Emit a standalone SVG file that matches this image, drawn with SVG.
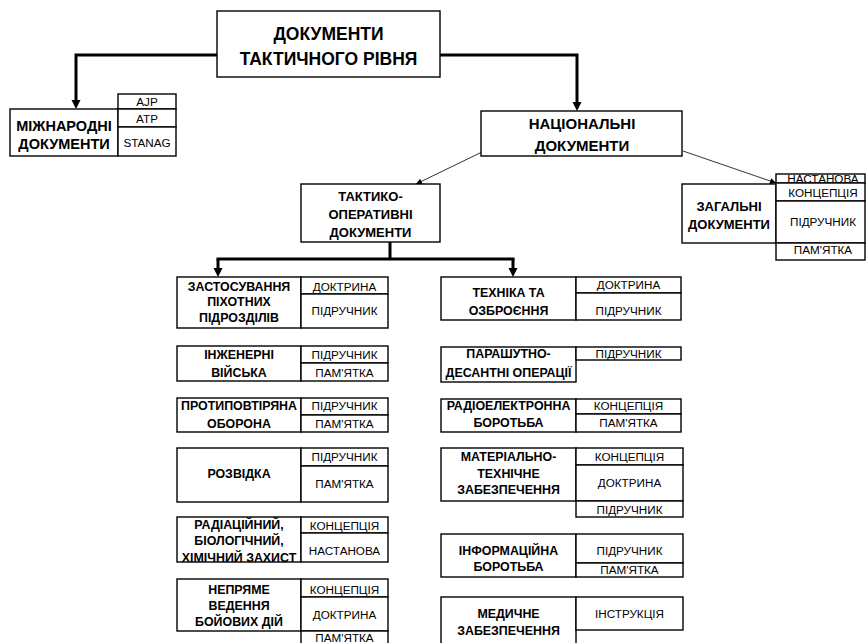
<svg xmlns="http://www.w3.org/2000/svg" width="866" height="643" viewBox="0 0 866 643">
<defs>
<style>
.b{fill:#fff;stroke:#000;stroke-width:1.4}
.t{font-family:"Liberation Sans",Arial,sans-serif;font-weight:bold;text-anchor:middle;fill:#000}
.s{font-family:"Liberation Sans",Arial,sans-serif;font-weight:normal;text-anchor:middle;fill:#000;font-size:11.7px}
.m{font-size:12.4px}
.thick{fill:none;stroke:#000;stroke-width:3}
.thin{fill:none;stroke:#000;stroke-width:0.8}
</style>
<marker id="ah" viewBox="0 0 10 10" refX="0" refY="5" markerWidth="9" markerHeight="10" markerUnits="userSpaceOnUse" orient="auto"><path d="M0,0 L10,5 L0,10 z" fill="#000"/></marker>
<marker id="ahs" viewBox="0 0 10 10" refX="10" refY="5" markerWidth="7" markerHeight="6" markerUnits="userSpaceOnUse" orient="auto"><path d="M0,0 L10,5 L0,10 z" fill="#000"/></marker>
</defs>
<rect width="866" height="643" fill="#fff"/>

<g id="connectors">
<path class="thick" d="M217,55 H76 V100" marker-end="url(#ah)"/>
<path class="thick" d="M440,55 H577 V102" marker-end="url(#ah)"/>
<path class="thick" d="M390,242 V259"/>
<path class="thick" d="M216.5,259 H514.5"/>
<path class="thick" d="M218,259 V268" marker-end="url(#ah)"/>
<path class="thick" d="M513,259 V268" marker-end="url(#ah)"/>
<path class="thin" d="M482,152 L416,184" marker-end="url(#ahs)"/>
<path class="thin" d="M683,151 L776,183" marker-end="url(#ahs)"/>
</g>

<g id="top">
<rect class="b" x="217" y="11" width="223" height="66"/>
<text class="t" x="328.5" y="40" font-size="17.5">ДОКУМЕНТИ</text>
<text class="t" x="328.5" y="65" font-size="17.5">ТАКТИЧНОГО РІВНЯ</text>
</g>

<g id="international">
<rect class="b" x="10" y="109" width="108" height="47"/>
<text class="t" x="64" y="131" font-size="14.5">МІЖНАРОДНІ</text>
<text class="t" x="64" y="149" font-size="14.5">ДОКУМЕНТИ</text>
<rect class="b" x="118" y="94" width="58" height="15"/>
<rect class="b" x="118" y="109" width="58" height="18"/>
<rect class="b" x="118" y="127" width="58" height="29"/>
<text class="s" x="147" y="106">AJP</text>
<text class="s" x="147" y="123">ATP</text>
<text class="s" x="147" y="147">STANAG</text>
</g>

<g id="national">
<rect class="b" x="481" y="111" width="201" height="45"/>
<text class="t" x="582" y="129" font-size="15">НАЦІОНАЛЬНІ</text>
<text class="t" x="582" y="151" font-size="15">ДОКУМЕНТИ</text>
</g>

<g id="general">
<rect class="b" x="682" y="184" width="94" height="59"/>
<text class="t" x="729" y="211" font-size="13">ЗАГАЛЬНІ</text>
<text class="t" x="729" y="229" font-size="13">ДОКУМЕНТИ</text>
<rect class="b" x="776" y="174" width="89" height="9"/>
<rect class="b" x="776" y="183" width="89" height="18"/>
<rect class="b" x="776" y="201" width="89" height="42"/>
<rect class="b" x="776" y="243" width="89" height="17"/>
<text class="s" x="823" y="183">НАСТАНОВА</text>
<text class="s" x="823" y="197">КОНЦЕПЦІЯ</text>
<text class="s" x="823" y="226">ПІДРУЧНИК</text>
<text class="s" x="823" y="254">ПАМ'ЯТКА</text>
</g>

<g id="tactical">
<rect class="b" x="301" y="184" width="139" height="58"/>
<text class="t" x="370.5" y="201" font-size="13">ТАКТИКО-</text>
<text class="t" x="370.5" y="219" font-size="13">ОПЕРАТИВНІ</text>
<text class="t" x="370.5" y="237" font-size="13">ДОКУМЕНТИ</text>
</g>

<g id="infantry">
<rect class="b" x="177" y="277" width="124" height="51"/>
<text class="t m" x="239" y="291">ЗАСТОСУВАННЯ</text>
<text class="t m" x="239" y="306">ПІХОТНИХ</text>
<text class="t m" x="239" y="322">ПІДРОЗДІЛІВ</text>
<rect class="b" x="301" y="277" width="87" height="17"/>
<rect class="b" x="301" y="294" width="87" height="34"/>
<text class="s" x="344.5" y="290.5">ДОКТРИНА</text>
<text class="s" x="344.5" y="315">ПІДРУЧНИК</text>
</g>

<g id="engineers">
<rect class="b" x="177" y="346" width="124" height="35"/>
<text class="t m" x="239" y="359">ІНЖЕНЕРНІ</text>
<text class="t m" x="239" y="376.5">ВІЙСЬКА</text>
<rect class="b" x="301" y="346" width="87" height="17"/>
<rect class="b" x="301" y="363" width="87" height="18"/>
<text class="s" x="344.5" y="359">ПІДРУЧНИК</text>
<text class="s" x="344.5" y="376.5">ПАМ'ЯТКА</text>
</g>

<g id="antitank">
<rect class="b" x="177" y="398" width="124" height="34"/>
<text class="t m" x="239" y="410">ПРОТИПОВТІРЯНА</text>
<text class="t m" x="239" y="427.5">ОБОРОНА</text>
<rect class="b" x="301" y="398" width="87" height="17"/>
<rect class="b" x="301" y="415" width="87" height="17"/>
<text class="s" x="344.5" y="410">ПІДРУЧНИК</text>
<text class="s" x="344.5" y="427.5">ПАМ'ЯТКА</text>
</g>

<g id="recon">
<rect class="b" x="177" y="448" width="124" height="54"/>
<text class="t m" x="239" y="478">РОЗВІДКА</text>
<rect class="b" x="301" y="448" width="87" height="18"/>
<rect class="b" x="301" y="466" width="87" height="36"/>
<text class="s" x="344.5" y="461">ПІДРУЧНИК</text>
<text class="s" x="344.5" y="487.5">ПАМ'ЯТКА</text>
</g>

<g id="cbrn">
<rect class="b" x="177" y="517" width="124" height="45"/>
<text class="t m" x="239" y="528.5">РАДІАЦІЙНИЙ,</text>
<text class="t m" x="239" y="545">БІОЛОГІЧНИЙ,</text>
<text class="t m" x="239" y="561.5">ХІМІЧНИЙ ЗАХИСТ</text>
<rect class="b" x="301" y="517" width="87" height="16"/>
<rect class="b" x="301" y="533" width="87" height="29"/>
<text class="s" x="344.5" y="530">КОНЦЕПЦІЯ</text>
<text class="s" x="344.5" y="555">НАСТАНОВА</text>
</g>

<g id="indirect">
<rect class="b" x="177" y="579" width="124" height="52"/>
<text class="t m" x="239" y="594">НЕПРЯМЕ</text>
<text class="t m" x="239" y="609.5">ВЕДЕННЯ</text>
<text class="t m" x="239" y="626">БОЙОВИХ ДІЙ</text>
<rect class="b" x="301" y="579" width="87" height="18"/>
<rect class="b" x="301" y="597" width="87" height="34"/>
<rect class="b" x="301" y="631" width="87" height="20"/>
<text class="s" x="344.5" y="594">КОНЦЕПЦІЯ</text>
<text class="s" x="344.5" y="619">ДОКТРИНА</text>
<text class="s" x="344.5" y="641.5">ПАМ'ЯТКА</text>
</g>

<g id="equipment">
<rect class="b" x="441" y="277" width="135" height="43"/>
<text class="t m" x="508.5" y="297">ТЕХНІКА ТА</text>
<text class="t m" x="508.5" y="315">ОЗБРОЄННЯ</text>
<rect class="b" x="576" y="277" width="105" height="16"/>
<rect class="b" x="576" y="293" width="105" height="27"/>
<text class="s" x="628.5" y="289">ДОКТРИНА</text>
<text class="s" x="628.5" y="315">ПІДРУЧНИК</text>
</g>

<g id="airborne">
<rect class="b" x="441" y="347" width="135" height="35"/>
<text class="t m" x="508.5" y="358">ПАРАШУТНО-</text>
<text class="t m" x="508.5" y="377">ДЕСАНТНІ ОПЕРАЦІЇ</text>
<rect class="b" x="576" y="347" width="105" height="13"/>
<text class="s" x="628.5" y="358">ПІДРУЧНИК</text>
</g>

<g id="ew">
<rect class="b" x="441" y="399" width="135" height="33"/>
<text class="t m" x="508.5" y="409.5">РАДІОЕЛЕКТРОННА</text>
<text class="t m" x="508.5" y="427">БОРОТЬБА</text>
<rect class="b" x="576" y="399" width="105" height="15"/>
<rect class="b" x="576" y="414" width="105" height="18"/>
<text class="s" x="628.5" y="409.5">КОНЦЕПЦІЯ</text>
<text class="s" x="628.5" y="427">ПАМ'ЯТКА</text>
</g>

<g id="logistics">
<rect class="b" x="441" y="448" width="135" height="53"/>
<text class="t m" x="508.5" y="461">МАТЕРІАЛЬНО-</text>
<text class="t m" x="508.5" y="478">ТЕХНІЧНЕ</text>
<text class="t m" x="508.5" y="494">ЗАБЕЗПЕЧЕННЯ</text>
<rect class="b" x="576" y="448" width="107" height="17"/>
<rect class="b" x="576" y="465" width="107" height="36"/>
<rect class="b" x="576" y="501" width="107" height="16"/>
<text class="s" x="629.5" y="461">КОНЦЕПЦІЯ</text>
<text class="s" x="629.5" y="487">ДОКТРИНА</text>
<text class="s" x="629.5" y="514">ПІДРУЧНИК</text>
</g>

<g id="infowar">
<rect class="b" x="441" y="534" width="135" height="43"/>
<text class="t m" x="508.5" y="555">ІНФОРМАЦІЙНА</text>
<text class="t m" x="508.5" y="571">БОРОТЬБА</text>
<rect class="b" x="576" y="534" width="107" height="29"/>
<rect class="b" x="576" y="563" width="107" height="14"/>
<text class="s" x="629.5" y="555">ПІДРУЧНИК</text>
<text class="s" x="629.5" y="574">ПАМ'ЯТКА</text>
</g>

<g id="medical">
<rect class="b" x="441" y="597" width="135" height="60"/>
<text class="t m" x="508.5" y="618">МЕДИЧНЕ</text>
<text class="t m" x="508.5" y="635">ЗАБЕЗПЕЧЕННЯ</text>
<rect class="b" x="576" y="597" width="107" height="33"/>
<text class="s" x="629.5" y="618">ІНСТРУКЦІЯ</text>
</g>
</svg>
